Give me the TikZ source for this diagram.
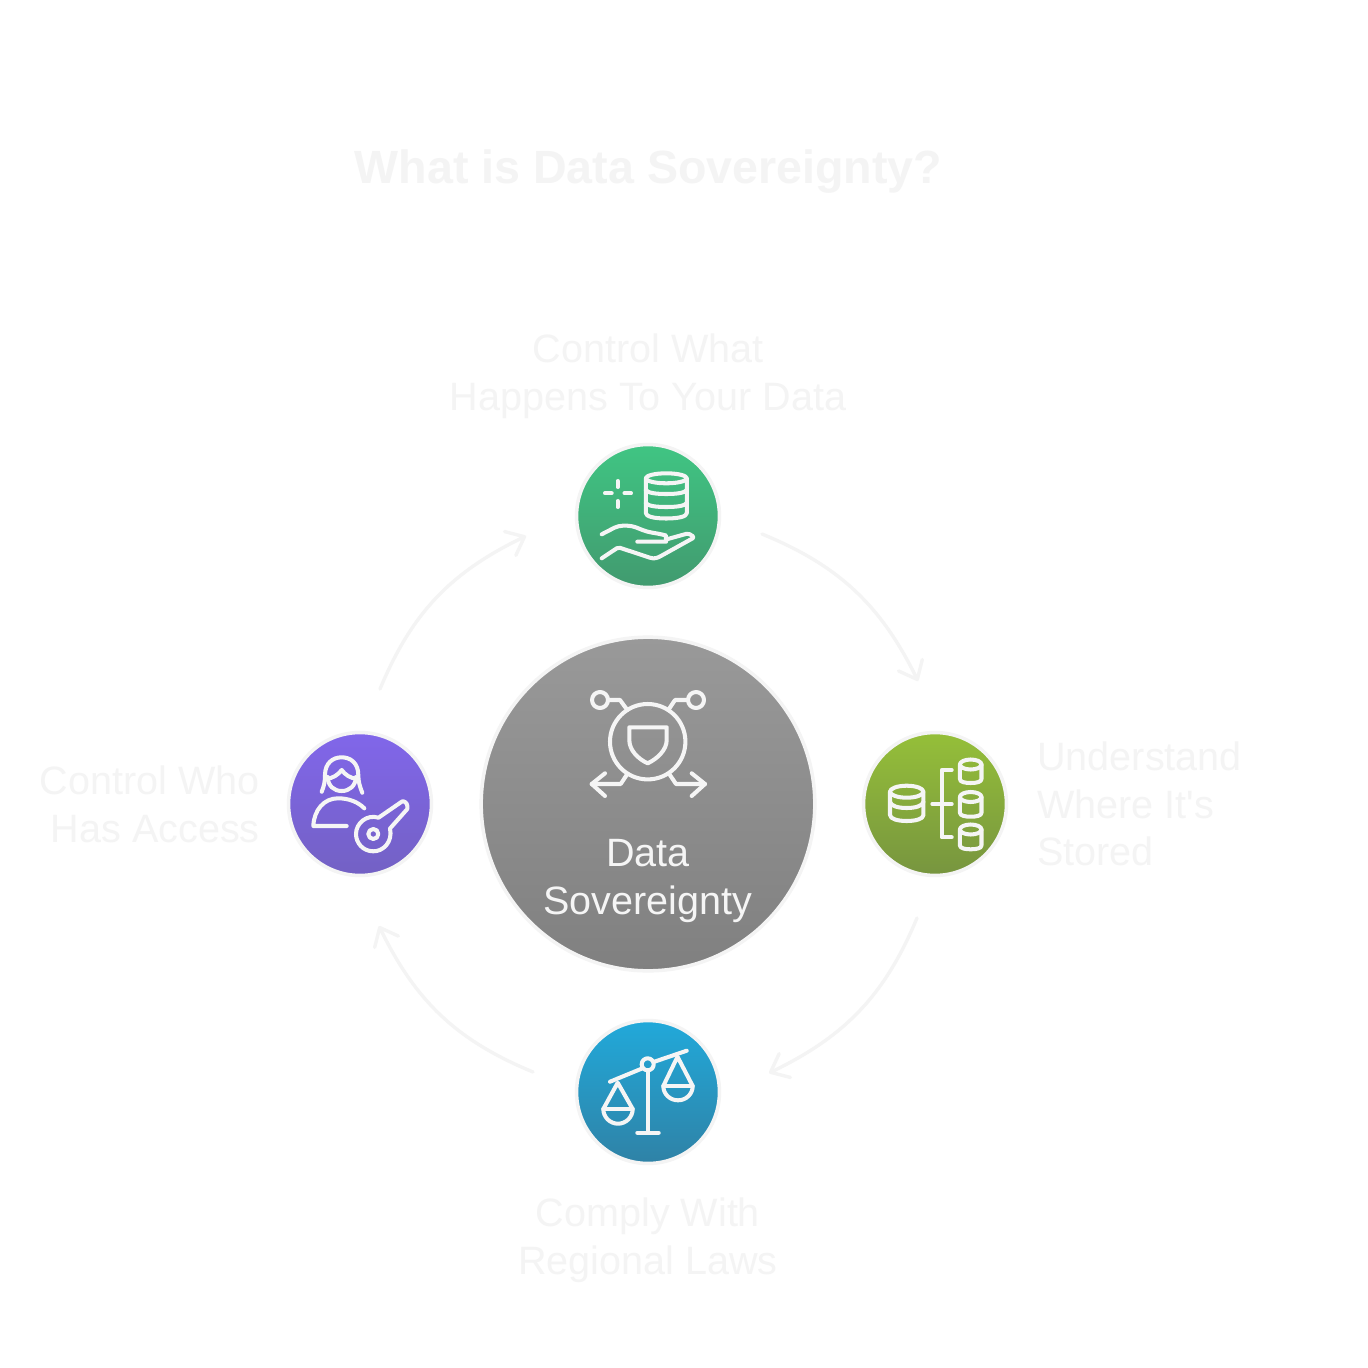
\documentclass[tikz,border=0pt]{standalone}
\usepackage{fontspec}
\setmainfont{Liberation Sans}
\newfontfamily\straightfont{Liberation Sans}
\usetikzlibrary{arrows.meta,bending}
\definecolor{pale}{HTML}{F4F4F4}
\definecolor{iconw}{HTML}{F5F5F5}
\definecolor{gTopA}{HTML}{40C583}\definecolor{gTopB}{HTML}{419A6F}
\definecolor{gRightA}{HTML}{95BF39}\definecolor{gRightB}{HTML}{77953F}
\definecolor{gBotA}{HTML}{21A9DA}\definecolor{gBotB}{HTML}{2F82A6}
\definecolor{gLeftA}{HTML}{8166EA}\definecolor{gLeftB}{HTML}{7361C4}
\definecolor{gCenA}{HTML}{999999}\definecolor{gCenB}{HTML}{808080}
\tikzset{
  disc/.style 2 args={circle,inner sep=0pt,minimum size=143.5*0.5669pt,draw=pale,line width=2pt,top color=#1,bottom color=#2},
  lbl/.style={inner sep=0pt,text=pale,font=\fontsize{22.5}{27.2}\selectfont},
  icon/.style={draw=iconw,line width=2.3pt,line cap=round,line join=round},
  flow/.style={draw=pale,line width=1.9pt,line cap=round,-{Straight Barb[length=9pt,width=15pt,line width=1.9pt,round]}}
}
\begin{document}
\begin{tikzpicture}[x=0.02cm,y=-0.02cm]
\useasboundingbox (0,0) rectangle (1368,1368);
\fill[white] (0,0) rectangle (1368,1368);
% title
\node[inner sep=0pt,text=pale,font=\bfseries\fontsize{26.5}{32}\selectfont] (title) at (648.5,172) {What is Data Sovereignty?};
% circles
\node[disc={gTopA}{gTopB}] (top) at (648,516) {};
\node[disc={gRightA}{gRightB}] (right) at (935,804) {};
\node[disc={gBotA}{gBotB}] (bottom) at (648,1092) {};
\node[disc={gLeftA}{gLeftB}] (left) at (360,804) {};
\node[circle,inner sep=0pt,minimum size=335*0.5669pt,draw=pale,line width=2pt,top color=gCenA,bottom color=gCenB] (center) at (648,804) {};
% labels
\node[lbl,align=center] (ltop) at (648,376) {Control What\\Happens To Your Data};
\node[lbl,align=left,anchor=west] (lright) at (1037,804) {Understand\\Where It{\straightfont\symbol{39}}s\\Stored};
\node[lbl,align=center] (lbottom) at (648,1240) {Comply With\\Regional Laws};
\node[lbl,align=right,anchor=east] (lleft) at (260,804) {Control Who\\Has Access};
\node[lbl,align=center,text=iconw] (lcenter) at (648,881) {Data\\Sovereignty};
% connectors
\coordinate (a1) at (762,534); \coordinate (a2) at (918,681);
\coordinate (b1) at (917,918); \coordinate (b2) at (769,1073);
\coordinate (c1) at (533,1072); \coordinate (c2) at (379,926);
\coordinate (d1) at (380,689); \coordinate (d2) at (526,536);
\draw[flow] (a1) to[bend left=21] (a2);
\draw[flow] (b1) to[bend left=21] (b2);
\draw[flow] (c1) to[bend left=21] (c2);
\draw[flow] (d1) to[bend left=21] (d2);
% --- center icon
\draw[icon] (647.7,741.7) circle[radius=37.7];
\draw[icon] (629.3,727.3) -- (666.7,727.3) -- (666.7,740) .. controls (666.7,750) and (657,759) .. (647.7,763.3) .. controls (638,759) and (629.3,750) .. (629.3,740) -- cycle;
\draw[icon] (600,700) circle[radius=8];
\draw[icon] (696,700) circle[radius=8];
\draw[icon] (608.3,700) -- (620,700) -- (627.3,710);
\draw[icon] (687.7,700) -- (675,700) -- (668.3,710);
\draw[icon] (627.3,774) -- (620.7,784) -- (591.7,784);
\draw[icon] (605,773.3) -- (591.7,784) -- (605,796);
\draw[icon] (669.3,774) -- (676,784) -- (705,784);
\draw[icon] (691.7,773.3) -- (705,784) -- (691.7,796);
% --- top icon
\draw[icon] (666.3,478.3) ellipse[x radius=20.5,y radius=5];
\draw[icon] (645.8,478.3) -- (645.8,513) .. controls (645.8,516.5) and (654,518.5) .. (666.3,518.5) .. controls (678.6,518.5) and (686.8,516.5) .. (686.8,513) -- (686.8,478.3);
\draw[icon] (645.8,490) .. controls (648,493) and (656,494) .. (666.3,494) .. controls (676.6,494) and (684.6,493) .. (686.8,490);
\draw[icon] (645.8,503) .. controls (648,506) and (656,507) .. (666.3,507) .. controls (676.6,507) and (684.6,506) .. (686.8,503);
\draw[icon] (605,493.3) -- (611.7,493.3);
\draw[icon] (624.5,493.3) -- (631,493.3);
\draw[icon] (617.7,481) -- (617.7,487);
\draw[icon] (617.7,501) -- (617.7,507);
\draw[icon,rounded corners=2.5pt] (601.7,534.3) -- (618.3,525.7) -- (631.7,525.7) -- (646.7,531.7) -- (661.7,534.3) .. controls (666,535.5) and (666,541.7) .. (661.7,541.7) -- (637.3,541.7);
\draw[icon,rounded corners=1pt] (601.7,558.3) -- (618.3,547.3) -- (636.7,553.3) -- (651.7,558.3) .. controls (655,558.5) and (658,557.5) .. (660,556.5) -- (694.5,537.3) -- (688.3,533.3) -- (666,539.5);
% --- right icon
\draw[icon] (906.7,791.7) ellipse[x radius=16.7,y radius=6];
\draw[icon] (890,791.7) -- (890,815) .. controls (890,819) and (898,821) .. (906.7,821) .. controls (915.4,821) and (923.4,819) .. (923.4,815) -- (923.4,791.7);
\draw[icon] (890,802) .. controls (891,806) and (898,808) .. (906.7,808) .. controls (915.4,808) and (922.4,806) .. (923.4,802);
\draw[icon] (932.3,804) -- (951.7,804);
\draw[icon] (951.7,770) -- (941.7,770) -- (941.7,837.3) -- (951.7,837.3);
\foreach \ya/\yb in {764.5/783,797/816.7,829.5/849.3}{
  \draw[icon] (970.7,\ya) ellipse[x radius=10.8,y radius=5];
  \draw[icon] (959.9,\ya) -- (959.9,\yb-4) .. controls (959.9,\yb-1) and (965,\yb) .. (970.7,\yb) .. controls (976.4,\yb) and (981.5,\yb-1) .. (981.5,\yb-4) -- (981.5,\ya);
}
% --- bottom icon
\draw[icon] (610,1081.7) -- (642,1068.5);
\draw[icon] (653.5,1062) -- (686.7,1050.7);
\draw[icon] (647.7,1064.3) circle[radius=6];
\draw[icon] (647.7,1070.3) -- (647.7,1132.7);
\draw[icon] (637.3,1132.7) -- (658.7,1132.7);
\draw[icon] (617.7,1082.7) -- (603.3,1109) .. controls (603.3,1117) and (609.9,1123.7) .. (618,1123.7) .. controls (626.1,1123.7) and (632.7,1117) .. (632.7,1109) -- cycle;
\draw[icon] (603.3,1109) -- (632.7,1109);
\draw[icon] (677.5,1056.7) -- (663.3,1086) .. controls (663.3,1094) and (669.9,1100.3) .. (678,1100.3) .. controls (686.1,1100.3) and (692.7,1094) .. (692.7,1086) -- cycle;
\draw[icon] (663.3,1086) -- (692.7,1086);
% --- left icon
\draw[icon] (321.7,791.7) .. controls (324,786) and (325,782) .. (325,775) .. controls (325,763) and (333,757.3) .. (341.7,757.3) .. controls (350.4,757.3) and (358.3,763) .. (358.3,775) .. controls (358.3,782) and (360,787) .. (362.3,792.7);
\draw[icon] (327.7,777) .. controls (328,786) and (334,791) .. (341.7,791) .. controls (349.4,791) and (355.5,786) .. (356,777);
\draw[icon] (326.5,779) .. controls (333,778) and (338,775) .. (341.7,770) .. controls (345.4,775) and (350,778) .. (357,779);
\draw[icon] (346.7,826) -- (313.3,826) .. controls (314,810) and (324,798.3) .. (338,798.3) .. controls (349,798.3) and (358,802) .. (364.3,808.3);
\coordinate (keyc) at (373.3,834);
\draw[icon] (keyc) circle[radius=5];
\draw[icon] (378.5,817.7) -- (402,801.5) .. controls (404,800.5) and (407.3,803) .. (407.3,806) -- (407.3,809) -- (390,828.5) .. controls (393,842) and (383,851.5) .. (373.3,851.3) .. controls (363,851.3) and (356,843) .. (356,834) .. controls (356,823) and (367,814) .. (378.5,817.7);
\end{tikzpicture}
\end{document}
